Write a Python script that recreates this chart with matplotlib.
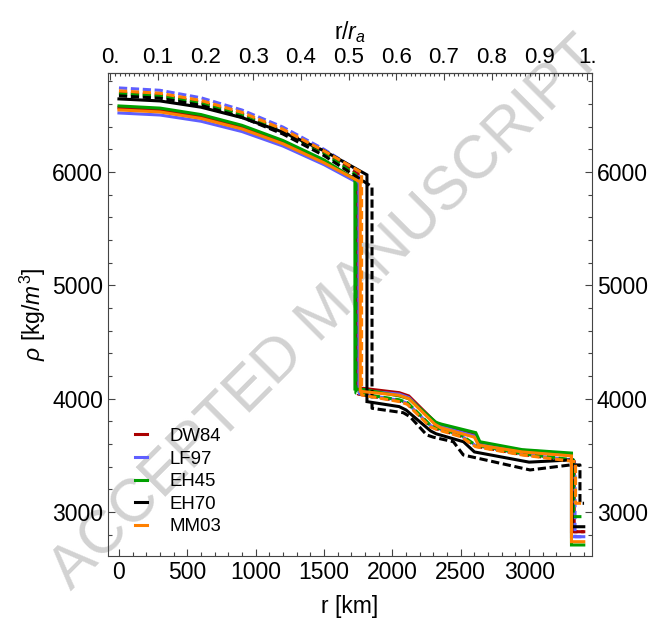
import matplotlib
matplotlib.use("Agg")
import matplotlib.pyplot as plt
from matplotlib.lines import Line2D
from matplotlib.ticker import MultipleLocator, FuncFormatter

plt.rcParams['font.family'] = ['Liberation Sans', 'DejaVu Sans']
plt.rcParams['mathtext.fontset'] = 'custom'
plt.rcParams['mathtext.rm'] = 'Liberation Sans'
plt.rcParams['mathtext.it'] = 'Liberation Sans:italic'

# density profiles of Mars models: radius [km] and density [kg/m^3]
# solid = first variant, dashed = second variant of each model
models = ['DW84', 'LF97', 'EH45', 'EH70', 'MM03']
colors = ['#aa0000', '#5f5fff', '#00a000', '#000000', '#ff8000']

dw84_r = [0, 300, 600, 900, 1200, 1500, 1745, 1745, 2050, 2120, 2310, 2350, 2600, 2630, 2950, 3310, 3310, 3400]
dw84_rho = [6566, 6547, 6490, 6397, 6265, 6095, 5925, 4097, 4053, 4024, 3797, 3768, 3680, 3606, 3545, 3512, 2826, 2826]
dw84d_r = [0, 300, 600, 900, 1200, 1500, 1750, 1750, 2050, 2110, 2275, 2320, 2500, 2610, 2950, 3330, 3330, 3400]
dw84d_rho = [6700, 6679, 6616, 6511, 6364, 6175, 5985, 4040, 3980, 3955, 3760, 3735, 3670, 3580, 3507, 3450, 2826, 2826]

lf97_r = [0, 300, 600, 900, 1200, 1500, 1755, 1755, 2050, 2120, 2310, 2350, 2600, 2630, 2950, 3310, 3310, 3400]
lf97_rho = [6521, 6503, 6448, 6357, 6229, 6065, 5900, 4075, 4040, 4010, 3785, 3755, 3670, 3595, 3535, 3500, 2782, 2782]
lf97d_r = [0, 300, 600, 900, 1200, 1500, 1758, 1758, 2050, 2110, 2275, 2320, 2500, 2610, 2950, 3336, 3336, 3400]
lf97d_rho = [6742, 6721, 6655, 6547, 6396, 6200, 6005, 4045, 3985, 3960, 3765, 3740, 3675, 3585, 3510, 3455, 2782, 2782]

eh45_r = [0, 300, 600, 900, 1200, 1500, 1726, 1726, 1790, 2050, 2120, 2320, 2360, 2610, 2640, 2950, 3310, 3310, 3400]
eh45_rho = [6583, 6564, 6507, 6412, 6278, 6107, 5935, 4085, 4080, 4024, 4000, 3790, 3775, 3700, 3620, 3550, 3520, 2709, 2709]
eh45d_r = [0, 300, 600, 900, 1200, 1500, 1733, 1733, 2050, 2110, 2275, 2320, 2500, 2610, 2950, 3325, 3325, 3400]
eh45d_rho = [6690, 6669, 6606, 6501, 6354, 6165, 5975, 4050, 3990, 3965, 3770, 3745, 3680, 3590, 3515, 3460, 2959, 2959]

eh70_r = [0, 300, 600, 900, 1200, 1500, 1814, 1814, 2050, 2100, 2280, 2320, 2520, 2600, 3000, 3314, 3314, 3400]
eh70_rho = [6645, 6627, 6572, 6480, 6352, 6187, 5975, 3974, 3930, 3900, 3715, 3690, 3620, 3530, 3440, 3460, 2870, 2870]
eh70d_r = [0, 300, 600, 900, 1200, 1500, 1851, 1851, 2080, 2130, 2251, 2300, 2446, 2519, 3007, 3300, 3372, 3372, 3402]
eh70d_rho = [6672, 6651, 6588, 6483, 6335, 6145, 5870, 3915, 3876, 3840, 3680, 3660, 3620, 3503, 3371, 3415, 3415, 3077, 3077]

mm03_r = [0, 300, 600, 900, 1200, 1500, 1765, 1765, 2050, 2120, 2310, 2350, 2600, 2630, 2950, 3310, 3310, 3400]
mm03_rho = [6548, 6530, 6473, 6380, 6249, 6081, 5912, 4065, 4030, 4000, 3775, 3745, 3660, 3590, 3530, 3495, 2738, 2738]
mm03d_r = [0, 300, 600, 900, 1200, 1500, 1775, 1775, 2050, 2110, 2275, 2320, 2500, 2610, 2950, 3340, 3340, 3400]
mm03d_rho = [6716, 6695, 6631, 6526, 6377, 6186, 5995, 4033, 3974, 3950, 3753, 3730, 3665, 3576, 3503, 3444, 3077, 3077]

profiles = [
    (dw84_r, dw84_rho, dw84d_r, dw84d_rho),
    (lf97_r, lf97_rho, lf97d_r, lf97d_rho),
    (eh45_r, eh45_rho, eh45d_r, eh45d_rho),
    (eh70_r, eh70_rho, eh70d_r, eh70d_rho),
    (mm03_r, mm03_rho, mm03d_r, mm03d_rho),
]

fig = plt.figure(figsize=(6.55, 6.29), dpi=100)
ax = fig.add_axes([0.1649, 0.1161, 0.7389, 0.7679])
ax.patch.set_alpha(0)

# pale diagonal stamp behind the plot
fig.text(0.5, 0.5, 'ACCEPTED MANUSCRIPT', rotation=45, fontsize=44,
         color='#d2d2d2', ha='center', va='center', zorder=-1)

lw = 2.2
for (r, rho, rd, rhod), c in zip(profiles, colors):
    ax.plot(r, rho, color=c, lw=lw, solid_joinstyle='miter')
    ax.plot(rd, rhod, color=c, lw=lw, dashes=(2.7, 1.2))

ax.set_xlim(-80, 3460)
ax.set_ylim(2612, 6874)

ax.xaxis.set_major_locator(MultipleLocator(500))
ax.xaxis.set_minor_locator(MultipleLocator(100))
ax.yaxis.set_major_locator(MultipleLocator(1000))
ax.yaxis.set_minor_locator(MultipleLocator(200))
ax.tick_params(which='both', direction='in', top=False, right=True,
               labelright=True, labelsize=16.5, width=0.8, color='#444444')
ax.tick_params(which='major', length=5)
ax.tick_params(which='minor', length=3)
for s in ax.spines.values():
    s.set_color('#444444')
    s.set_linewidth(0.8)

ax.set_xlabel('r [km]', fontsize=16.5, labelpad=8)
ax.set_ylabel(r'$\rho$ [kg/$m^3$]', fontsize=16.5, labelpad=3)

# top axis in units of the planetary radius
top = ax.secondary_xaxis('top', functions=(lambda r: (r + 64) / 3488,
                                           lambda u: u * 3488 - 64))
top.xaxis.set_major_locator(MultipleLocator(0.1))
top.xaxis.set_minor_locator(MultipleLocator(0.01))
top.xaxis.set_major_formatter(FuncFormatter(
    lambda v, p: '0.' if abs(v) < 1e-9 else ('1.' if abs(v - 1) < 1e-9 else f'{v:.1f}')))
top.tick_params(which='both', direction='in', labelsize=16, width=0.8, color='#444444')
top.tick_params(which='major', length=5)
top.tick_params(which='minor', length=2.5)
top.spines['top'].set_color('#444444')
top.set_xlabel('r/$r_a$', fontsize=16.5, labelpad=6)

handles = [Line2D([], [], color=c, lw=lw) for c in colors]
ax.legend(handles, models, loc='upper left', bbox_to_anchor=(0.056, 0.265),
          frameon=False, fontsize=13.4, handlelength=0.65, handletextpad=1.2,
          labelspacing=0.3, borderpad=0, borderaxespad=0)

fig.savefig('out.png', dpi=100)
